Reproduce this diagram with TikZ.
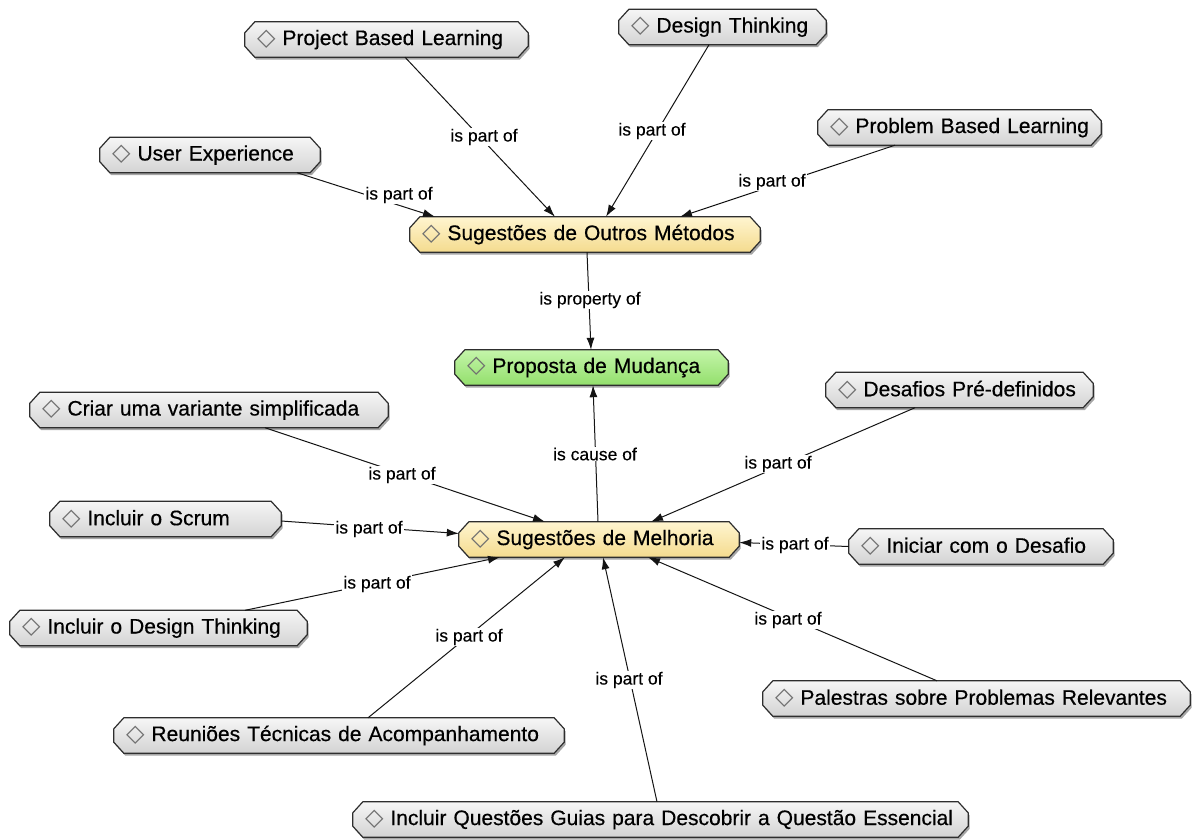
\documentclass[tikz,border=0pt]{standalone}
\usepackage{fontspec}
\setmainfont{Liberation Sans}
\newfontfamily\conceptfont{Liberation Sans}[FakeBold=0.45]
\newfontfamily\relfont{Liberation Sans}[FakeBold=0.2]
\newfontfamily\symfont{DejaVu Sans}
\usetikzlibrary{arrows.meta,shadows,backgrounds}

\definecolor{boxline}{HTML}{2E2E2E}
\definecolor{edgeline}{HTML}{141414}
\definecolor{diamondgray}{HTML}{707070}
\definecolor{leafTop}{HTML}{F6F6F6}
\definecolor{leafBot}{HTML}{D3D3D3}
\definecolor{hubTop}{HTML}{FFF5D0}
\definecolor{hubBot}{HTML}{F4DB8E}
\definecolor{goalTop}{HTML}{C4F5AA}
\definecolor{goalBot}{HTML}{93DF6C}

% outlined diamond in front of every concept
\newcommand\dmd{{\color{diamondgray}\symfont\fontsize{24}{24}\selectfont ◇}\hspace{7pt}}
% chamfered outline drawn behind a named concept node
\newcommand\chamfbox[2]{%
  \path[#2]
    ([xshift=10pt]#1.north west) -- ([xshift=-10pt]#1.north east)
    -- ([yshift=-11pt]#1.north east) -- ([yshift=11pt]#1.south east)
    -- ([xshift=-10pt]#1.south east) -- ([xshift=10pt]#1.south west)
    -- ([yshift=11pt]#1.south west) -- ([yshift=-11pt]#1.north west) -- cycle;}

\begin{document}
\begin{tikzpicture}[x=1pt,y=-1pt,
  concept/.style={rectangle, inner xsep=12pt, inner ysep=0pt, minimum height=35pt,
    align=left, font=\conceptfont\fontsize{21}{24}\selectfont},
  rel/.style={font=\relfont\fontsize{17.5}{19}\selectfont, text=black, fill=white,
    inner xsep=1pt, inner ysep=0.5pt},
  link/.style={draw=edgeline, line width=1.0pt, -{Latex[length=12pt,width=8pt]}},
  boxbase/.style={draw=boxline, line width=1.2pt,
    drop shadow={shadow xshift=1.5pt, shadow yshift=-2.5pt, opacity=0.35, fill=black}},
  leaf/.style={boxbase, top color=leafTop, bottom color=leafBot},
  hub/.style={boxbase, top color=hubTop, bottom color=hubBot},
  goal/.style={boxbase, top color=goalTop, bottom color=goalBot}]
\useasboundingbox (0,0) rectangle (1193,839);

% concepts
\node[concept, text width=259pt] (pbl)  at (386.5,39.5)  {\dmd Project Based Learning};
\node[concept, text width=183pt] (dt)   at (722.5,27)    {\dmd Design Thinking};
\node[concept, text width=259pt] (prbl) at (959.5,127.5) {\dmd Problem Based Learning};
\node[concept, text width=196pt] (ux)   at (210,155)     {\dmd User Experience};
\node[concept, text width=326pt] (som)  at (585,234.5)   {\dmd Sugestões de Outros Métodos};
\node[concept, text width=249pt] (pdm)  at (591.5,367.5) {\dmd Proposta de Mudança};
\node[concept, text width=334pt] (cri)  at (209,410)     {\dmd Criar uma variante simplificada};
\node[concept, text width=243pt] (des)  at (959.5,390)   {\dmd Desafios Pré-definidos};
\node[concept, text width=207pt] (scr)  at (165.5,519)   {\dmd Incluir o Scrum};
\node[concept, text width=256pt] (sdm)  at (599,539.5)   {\dmd Sugestões de Melhoria};
\node[concept, text width=240pt] (ini)  at (981,546.5)   {\dmd Iniciar com o Desafio};
\node[concept, text width=273pt] (idt)  at (158.5,628)   {\dmd Incluir o Design Thinking};
\node[concept, text width=403pt] (pal)  at (976.5,698.5) {\dmd Palestras sobre Problemas Relevantes};
\node[concept, text width=426pt] (reu)  at (339,735.5)   {\dmd Reuniões Técnicas de Acompanhamento};
\node[concept, text width=591pt] (iqg)  at (660.5,819.5) {\dmd Incluir Questões Guias para Descobrir a Questão Essencial};

\begin{scope}[on background layer]
  \foreach \n in {pbl,dt,prbl,ux,cri,des,scr,ini,idt,pal,reu,iqg} {\chamfbox{\n}{leaf}}
  \chamfbox{som}{hub}
  \chamfbox{sdm}{hub}
  \chamfbox{pdm}{goal}
\end{scope}

% relations
\draw[link] ([xshift=87pt]ux.south) -- ([xshift=-150pt]som.north)
  node[rel] at (399,195) {is part of};
\draw[link] ([xshift=18.5pt]pbl.south) -- ([xshift=-30pt]som.north)
  node[rel] at (484,137) {is part of};
\draw[link] ([xshift=-13.5pt]dt.south) -- ([xshift=21pt]som.north)
  node[rel] at (652,131) {is part of};
\draw[link] ([xshift=-64.5pt]prbl.south) -- ([xshift=95pt]som.north)
  node[rel] at (772,182) {is part of};
\draw[link] ([xshift=2pt]som.south) -- ([xshift=-0.5pt]pdm.north)
  node[rel] at (590,300) {is property of};
\draw[link] ([xshift=-1pt]sdm.north) -- ([xshift=1.5pt]pdm.south)
  node[rel] at (595,454) {is cause of};
\draw[link] ([xshift=56pt]cri.south) -- ([xshift=-54pt]sdm.north)
  node[rel] at (402,475) {is part of};
\draw[link] ([xshift=-44.5pt]des.south) -- ([xshift=52pt]sdm.north)
  node[rel] at (778,464) {is part of};
\draw[link] ([yshift=-2pt]scr.east) -- ([yshift=6pt]sdm.west)
  node[rel] at (369,529) {is part of};
\draw[link] (ini.west) -- ([yshift=-3pt]sdm.east)
  node[rel] at (795,545) {is part of};
\draw[link] ([xshift=86.5pt]idt.north) -- ([xshift=-99pt]sdm.south)
  node[rel] at (377,584) {is part of};
\draw[link] ([xshift=29pt]reu.north) -- ([xshift=-34pt]sdm.south)
  node[rel] at (469,637) {is part of};
\draw[link] ([xshift=-3.5pt]iqg.north) -- ([xshift=4pt]sdm.south)
  node[rel] at (629,680) {is part of};
\draw[link] ([xshift=-39.5pt]pal.north) -- ([xshift=49pt]sdm.south)
  node[rel] at (788,620) {is part of};
\end{tikzpicture}
\end{document}
